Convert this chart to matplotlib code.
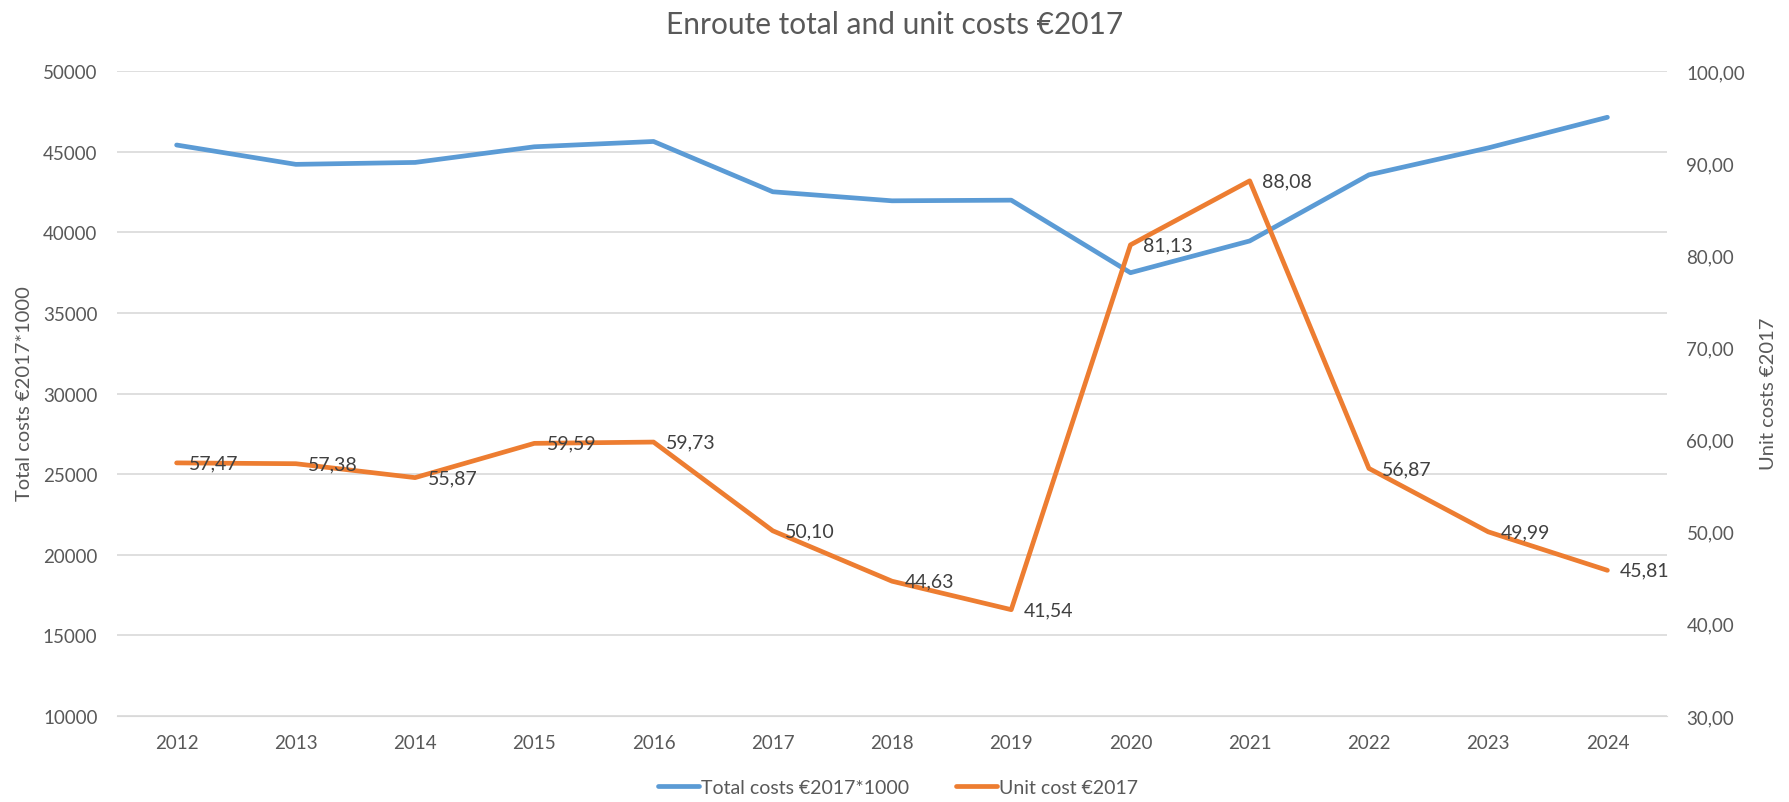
import matplotlib
matplotlib.use("Agg")
import matplotlib.pyplot as plt

plt.rcParams["font.family"] = ["Lato", "DejaVu Sans"]

years = ["2012", "2013", "2014", "2015", "2016", "2017", "2018",
         "2019", "2020", "2021", "2022", "2023", "2024"]
total_costs = [45410, 44210, 44330, 45300, 45630, 42510, 41950,
               41990, 37490, 39460, 43560, 45230, 47130]
unit_costs = [57.47, 57.38, 55.87, 59.59, 59.73, 50.10, 44.63,
              41.54, 81.13, 88.08, 56.87, 49.99, 45.81]

BLUE = "#5B9BD5"
ORANGE = "#ED7D31"
GREY = "#595959"

fig = plt.figure(figsize=(17.89, 8.03), dpi=100)
ax = fig.add_axes([117 / 1789, 1 - 717 / 803, 1550 / 1789, 645 / 803])
ax2 = ax.twinx()

x = list(range(len(years)))

ln1, = ax.plot(x, total_costs, color=BLUE, lw=3.4, solid_capstyle="round",
               solid_joinstyle="round", label="Total costs €2017*1000")
ln2, = ax2.plot(x, unit_costs, color=ORANGE, lw=3.4, solid_capstyle="round",
                solid_joinstyle="round", label="Unit cost €2017")

# value labels to the right of each unit-cost point
for xi, v in zip(x, unit_costs):
    ax2.annotate(f"{v:.2f}".replace(".", ","), (xi, v), xytext=(9, 0),
                 textcoords="offset points", ha="left", va="center",
                 fontsize=14, color="#404040")

ax.set_xlim(-0.5, len(years) - 0.5)
ax.set_ylim(10000, 50000)
ax.set_yticks(range(10000, 50001, 5000))
ax2.set_ylim(30, 100)
ax2.set_yticks(range(30, 101, 10))
ax2.set_yticklabels([f"{t},00" for t in range(30, 101, 10)])

ax.set_xticks(x)
ax.set_xticklabels(years)

ax.grid(axis="y", color="#D9D9D9", lw=1.2)
ax.set_axisbelow(True)

for a in (ax, ax2):
    for s in a.spines.values():
        s.set_visible(False)
    a.tick_params(length=0, labelsize=13.5, colors=GREY)
ax.tick_params(axis="y", pad=14)
ax.tick_params(axis="x", pad=13)
ax2.tick_params(axis="y", pad=14)

ax.spines["bottom"].set_visible(True)
ax.spines["bottom"].set_color("#D9D9D9")

fig.text(25 / 1789, 1 - 394 / 803, "Total costs €2017*1000", rotation=90,
         ha="center", va="center", fontsize=14.5, color=GREY)
fig.text(1769 / 1789, 1 - 394 / 803, "Unit costs €2017", rotation=90,
         ha="center", va="center", fontsize=14.5, color=GREY)
fig.text(0.5, 1 - 25 / 803, "Enroute total and unit costs €2017",
         ha="center", va="center", fontsize=21.5, color=GREY)

fig.legend(handles=[ln1, ln2], loc="center", bbox_to_anchor=(0.502, 0.018),
           ncol=2, frameon=False, fontsize=14, handlelength=2.1,
           handletextpad=0.1, columnspacing=2.4, labelcolor=GREY)

fig.savefig("out.png", dpi=100)
